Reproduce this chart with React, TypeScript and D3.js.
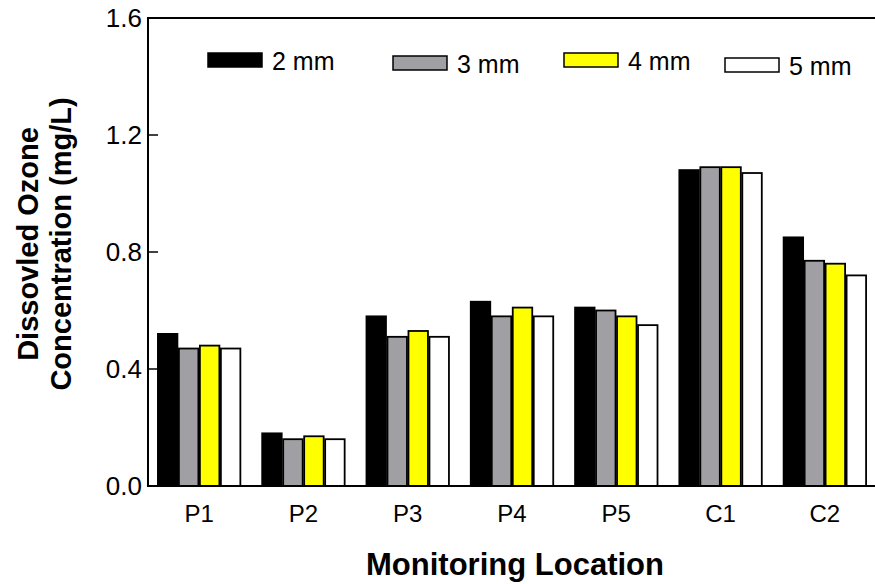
import React from "react";
import * as d3 from "d3";

const locations = ["P1", "P2", "P3", "P4", "P5", "C1", "C2"];
const sizes = ["2 mm", "3 mm", "4 mm", "5 mm"];
const mm2 = [0.52, 0.18, 0.58, 0.63, 0.61, 1.08, 0.85];
const mm3 = [0.47, 0.16, 0.51, 0.58, 0.6, 1.09, 0.77];
const mm4 = [0.48, 0.17, 0.53, 0.61, 0.58, 1.09, 0.76];
const mm5 = [0.47, 0.16, 0.51, 0.58, 0.55, 1.07, 0.72];
const yTicks = [0, 0.4, 0.8, 1.2, 1.6];

const series = [mm2, mm3, mm4, mm5];
const fills = ["#000000", "#a0a0a4", "#ffff00", "#ffffff"];

const width = 875;
const height = 584;
const font = "'Liberation Sans', Arial, Helvetica, sans-serif";

export default function App() {
  const left = 148;
  const top = 18;
  const bottom = 486;

  // outer band spans past the right edge, as the source is cropped there
  const x = d3
    .scaleBand<string>()
    .domain(locations)
    .range([147, 877])
    .paddingInner(0.195)
    .paddingOuter(0.0975);
  const xSub = d3
    .scaleBand<number>()
    .domain(d3.range(sizes.length))
    .range([0, x.bandwidth()]);
  const y = d3.scaleLinear().domain([0, 1.6]).range([bottom, top]);

  // legend entries: swatch left edge and vertical nudge
  const legendX = [208, 393, 564, 725];
  const legendDy = [0, 3, 0, 5];

  return (
    <svg
      width={width}
      height={height}
      style={{ position: "absolute", left: 0, top: 0, background: "#fff" }}
      fontFamily={font}
    >
      {/* bars */}
      {locations.map((loc, i) => (
        <g key={loc} transform={`translate(${x(loc)},0)`}>
          {series.map((vals, s) => (
            <rect
              key={s}
              x={xSub(s)! + 0.75}
              y={y(vals[i])}
              width={xSub.bandwidth() - 1.5}
              height={bottom - y(vals[i])}
              fill={fills[s]}
              stroke="#000"
              strokeWidth={1.8}
            />
          ))}
        </g>
      ))}

      {/* frame and axes */}
      <line x1={left} x2={width} y1={top} y2={top} stroke="#000" strokeWidth={2} />
      <line x1={left} x2={width} y1={bottom} y2={bottom} stroke="#000" strokeWidth={2} />
      <line x1={left} x2={left} y1={top - 1} y2={bottom + 1} stroke="#000" strokeWidth={2} />

      {yTicks.map((t) => (
        <g key={t}>
          <line x1={left} x2={left + 10} y1={y(t)} y2={y(t)} stroke="#000" strokeWidth={1.5} />
          <text
            x={left - 6}
            y={y(t)}
            dy="0.36em"
            textAnchor="end"
            fontSize={26}
            fill="#000"
          >
            {d3.format(".1f")(t)}
          </text>
        </g>
      ))}

      {locations.map((loc) => (
        <text
          key={loc}
          x={x(loc)! + x.bandwidth() / 2}
          y={522}
          textAnchor="middle"
          fontSize={24}
          fill="#000"
        >
          {loc}
        </text>
      ))}

      {/* legend */}
      {sizes.map((s, k) => (
        <g key={s} transform={`translate(${legendX[k]},${53 + legendDy[k]})`}>
          <rect x={0} y={0} width={54} height={14} fill={fills[k]} stroke="#000" strokeWidth={1.5} />
          <text x={64} y={17} fontSize={25} fill="#000">
            {s}
          </text>
        </g>
      ))}

      {/* axis titles */}
      <text
        x={515}
        y={575}
        textAnchor="middle"
        fontSize={31}
        fontWeight="bold"
        fill="#000"
      >
        Monitoring Location
      </text>
      <g transform="translate(0,244) rotate(-90)">
        <text x={0} y={38} textAnchor="middle" fontSize={29} fontWeight="bold" fill="#000">
          Dissovled Ozone
        </text>
        <text x={0} y={71} textAnchor="middle" fontSize={29} fontWeight="bold" fill="#000">
          Concentration (mg/L)
        </text>
      </g>
    </svg>
  );
}
